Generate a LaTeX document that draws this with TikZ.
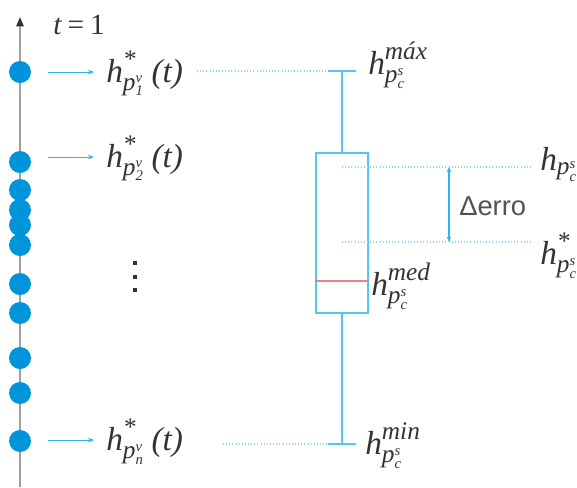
\documentclass[tikz,border=0pt]{standalone}
\usepackage{amsmath}
\usepackage{fontspec}
\setmainfont{Liberation Serif}
\newfontfamily\sansf{Liberation Sans}
\usetikzlibrary{arrows.meta}
\newcommand{\ti}[1]{\text{\itshape #1}}
\DeclareMathSizes{25}{25}{19}{11}
\DeclareMathSizes{22}{22}{16}{11}
\definecolor{dotblue}{HTML}{0095DA}
\definecolor{lineblue}{HTML}{2DB5EE}
\definecolor{boxblue}{HTML}{55C6F2}
\definecolor{dotline}{HTML}{8ED6F5}
\definecolor{medred}{HTML}{F07F86}
\definecolor{axisgray}{HTML}{A0A0A0}
\definecolor{txt}{HTML}{333333}
\tikzset{
  pt/.style={circle,fill=dotblue,inner sep=0pt,minimum size=16.5pt},
  harrow/.style={draw=lineblue,line width=0.6pt,-{Stealth[length=4.5pt,width=3.5pt]}},
  lab/.style={anchor=base west,inner sep=0pt,text=txt,font=\fontsize{25}{30}\selectfont},
  boxline/.style={draw=boxblue,line width=1pt},
  guide/.style={draw=dotline,line width=0.9pt,dash pattern=on 0.75pt off 1.6pt},
  vdot/.style={fill=txt,inner sep=0pt,minimum size=3.2pt}
}
\begin{document}
\begin{tikzpicture}[x=0.75pt,y=-0.75pt]
\useasboundingbox (0,0) rectangle (577,487);
% axis
\coordinate (axbot) at (20,487);
\coordinate (axtop) at (20,17);
\draw[axisgray,line width=1.3pt,-{Triangle[length=7pt,width=5.5pt,fill=txt,color=txt]}] (axbot) -- (axtop);
\node[anchor=base west,inner sep=0pt,text=txt,font=\fontsize{22}{26}\selectfont] (tlab) at (53,34) {$\ti{t}\mathbin{\text{\upshape =}}\text{\upshape 1}$};
% dots
\foreach \y [count=\i] in {72,162,190,210,225,245,284,313,358,393,441}
  \node[pt] (d\i) at (20,\y) {};
% arrows
\coordinate (a1s) at (48,72);  \coordinate (a1e) at (94,72);
\coordinate (a2s) at (48,157); \coordinate (a2e) at (94,157);
\coordinate (a3s) at (48,440); \coordinate (a3e) at (94,440);
\draw[harrow] (a1s) -- (a1e);
\draw[harrow] (a2s) -- (a2e);
\draw[harrow] (a3s) -- (a3e);
% left labels
\node[lab] (l1) at (106,82) {$\ti{h}^{\ti{*}}_{\ti{p}^{\ti{v}}_{\ti{1}}}\hspace{0.22em}\ti{(t)}$};
\node[lab] (l2) at (106,167) {$\ti{h}^{\ti{*}}_{\ti{p}^{\ti{v}}_{\ti{2}}}\hspace{0.22em}\ti{(t)}$};
\node[lab] (l3) at (106,450) {$\ti{h}^{\ti{*}}_{\ti{p}^{\ti{v}}_{\ti{n}}}\hspace{0.22em}\ti{(t)}$};
% vertical dots
\node[vdot] (v1) at (135,263) {};
\node[vdot] (v2) at (135,277) {};
\node[vdot] (v3) at (135,290) {};
% box plot
\node[draw=boxblue,line width=1pt,minimum width=39pt,minimum height=120pt,inner sep=0pt] (box) at (342,233) {};
\draw[medred,line width=1pt] ([yshift=-36pt]box.west) coordinate (m1) -- ([yshift=-36pt]box.east) coordinate (m2);
\coordinate (capT) at (342,71);
\coordinate (capB) at (342,444);
\draw[boxline] (box.north) -- (capT);
\draw[boxline] (box.south) -- (capB);
\draw[boxline] ([xshift=-10.5pt]capT) coordinate (cTl) -- ([xshift=10.5pt]capT) coordinate (cTr);
\draw[boxline] ([xshift=-10.5pt]capB) coordinate (cBl) -- ([xshift=10.5pt]capB) coordinate (cBr);
% guides
\coordinate (g1) at (197,71);
\coordinate (g2) at (223,444);
\draw[guide] (g1) -- (cTl);
\draw[guide] (g2) -- (cBl);
\coordinate (u1) at (342,167); \coordinate (u2) at (533,167);
\coordinate (w1) at (342,242); \coordinate (w2) at (533,242);
\draw[guide] (u1) -- (u2);
\draw[guide] (w1) -- (w2);
% error arrow
\coordinate (e1) at (449,167); \coordinate (e2) at (449,242);
\draw[draw=lineblue,line width=0.8pt,{Stealth[length=4pt,width=3.5pt]}-{Stealth[length=4pt,width=3.5pt]}] (e1) -- (e2);
\node[anchor=west,inner sep=0pt,text=txt!85,font=\sansf\fontsize{20.5}{24}\selectfont] (err) at (459,206) {Δerro};
% box labels
\node[lab] (hmax) at (368,74) {$\ti{h}^{\ti{máx}}_{\ti{p}^{\ti{s}}_{\ti{c}}}$};
\node[lab] (hmed) at (371,295) {$\ti{h}^{\ti{med}}_{\ti{p}^{\ti{s}}_{\ti{c}}}$};
\node[lab] (hmin) at (365,454) {$\ti{h}^{\ti{min}}_{\ti{p}^{\ti{s}}_{\ti{c}}}$};
\node[lab] (hr1) at (540,170) {$\ti{h}_{\ti{p}^{\ti{s}}_{\ti{c}}}$};
\node[lab] (hr2) at (540,264) {$\ti{h}^{\ti{*}}_{\ti{p}^{\ti{s}}_{\ti{c}}}$};
\end{tikzpicture}
\end{document}
